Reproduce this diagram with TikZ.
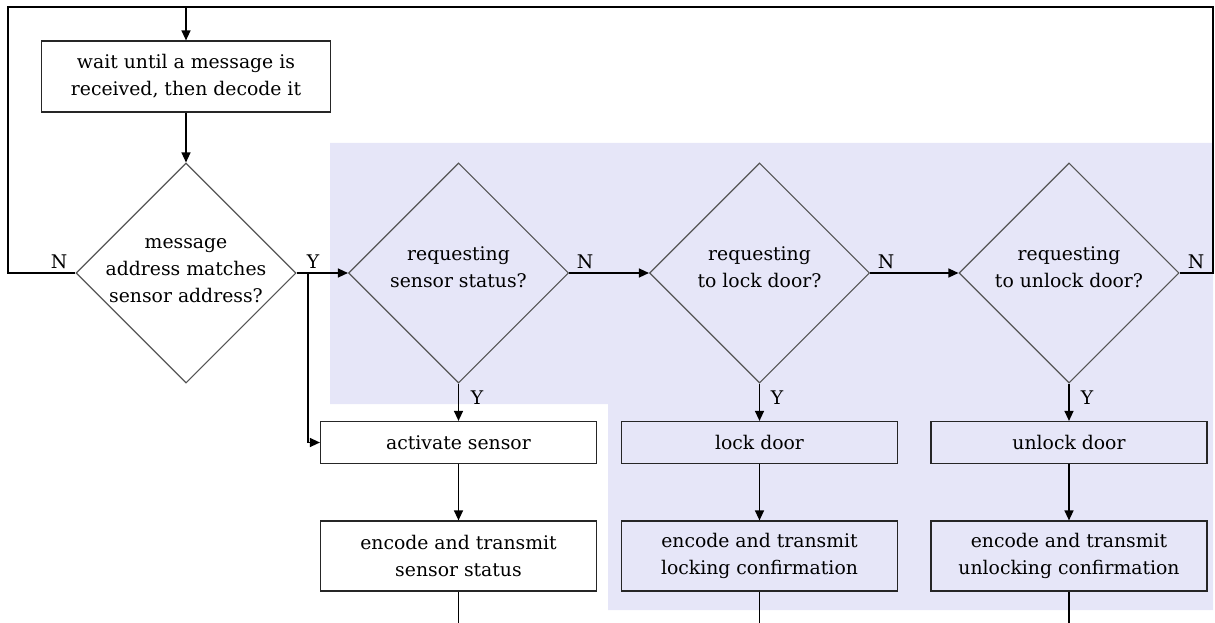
\documentclass[tikz,border=0pt]{standalone}
\usepackage{fontspec}
\setmainfont{DejaVu Serif}
\usetikzlibrary{shapes.geometric,arrows.meta}
\definecolor{areafill}{RGB}{230,230,248}
\definecolor{dline}{RGB}{85,85,85}
\begin{document}
\begin{tikzpicture}[x=1pt,y=-1pt,
  font=\fontsize{18.8}{27}\selectfont,
  box/.style={draw=black!85,line width=1.2pt,minimum width=276pt,inner sep=0pt,align=center},
  onebox/.style={box,minimum height=42pt},
  twobox/.style={box,minimum height=70pt},
  dia/.style={draw=dline,line width=1.1pt,diamond,aspect=1,minimum width=220pt,minimum height=220pt,inner sep=0pt},
  dtext/.style={align=center,inner sep=0pt},
  lab/.style={inner sep=0pt},
  flow/.style={line width=1.3pt,-{Triangle[length=10pt,width=9pt]}},
  wire/.style={line width=1.3pt}]
\useasboundingbox (0,0) rectangle (1215,623);

% shaded request-handling area
\fill[areafill] (330,143) -- (1213,143) -- (1213,610) -- (608,610) -- (608,404) -- (330,404) -- cycle;

% receive and decode
\node[box,minimum width=289pt,minimum height=71pt] (wait) at (186,76.5) {wait until a message is\\received, then decode it};

% decisions
\node[dia] (d1) at (186,273) {};
\node[dtext] (t1) at (186,271) {message\\address matches\\sensor address?};
\node[dia] (d2) at (458.5,273) {};
\node[dtext] (t2) at (458.5,267) {requesting\\sensor status?};
\node[dia] (d3) at (759.5,273) {};
\node[dtext] (t3) at (759.5,267) {requesting\\to lock door?};
\node[dia] (d4) at (1069,273) {};
\node[dtext] (t4) at (1069,267) {requesting\\to unlock door?};

% actions
\node[onebox] (act) at (458.5,442.5) {activate sensor};
\node[onebox] (lock) at (759.5,442.5) {lock door};
\node[onebox] (unlock) at (1069,442.5) {unlock door};
\node[twobox] (encs) at (458.5,556) {encode and transmit\\sensor status};
\node[twobox] (encl) at (759.5,556) {encode and transmit\\locking confirmation};
\node[twobox] (encu) at (1069,556) {encode and transmit\\unlocking confirmation};

% helper points
\coordinate (topjoin) at (186,7);
\coordinate (ybranch) at (308,273);
\coordinate (outs) at (458.5,623);
\coordinate (outl) at (759.5,623);
\coordinate (outu) at (1069,623);

% connectors
\draw[flow] (d1.west) -- (8,273) |- (topjoin) -- (wait.north);
\draw[wire] (d4.east) -- (1213,273) |- (topjoin);
\draw[flow] (wait.south) -- (d1.north);
\draw[flow] (d1.east) -- (d2.west);
\draw[flow] (ybranch) |- (act.west);
\draw[flow] (d2.east) -- (d3.west);
\draw[flow] (d3.east) -- (d4.west);
\draw[flow] (d2.south) -- (act.north);
\draw[flow] (d3.south) -- (lock.north);
\draw[flow] (d4.south) -- (unlock.north);
\draw[flow] (act.south) -- (encs.north);
\draw[flow] (lock.south) -- (encl.north);
\draw[flow] (unlock.south) -- (encu.north);
\draw[wire] (encs.south) -- (outs);
\draw[wire] (encl.south) -- (outl);
\draw[wire] (encu.south) -- (outu);

% branch labels
\node[lab] (n1) at (59,262) {N};
\node[lab] (y1) at (313,262) {Y};
\node[lab] (n2) at (585,262) {N};
\node[lab] (n3) at (886,262) {N};
\node[lab] (n4) at (1196,262) {N};
\node[lab] (y2) at (477,398) {Y};
\node[lab] (y3) at (777,398) {Y};
\node[lab] (y4) at (1087,398) {Y};
\end{tikzpicture}
\end{document}
